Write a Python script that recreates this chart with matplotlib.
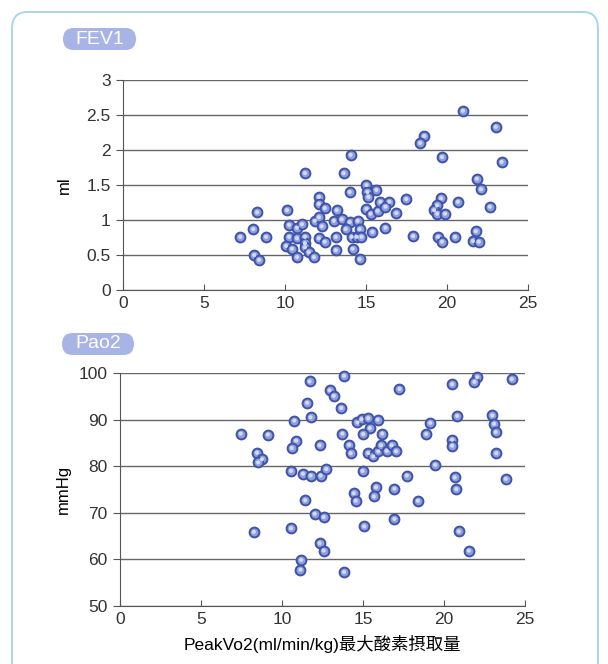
import numpy as np
import matplotlib
matplotlib.use("Agg")
import matplotlib.pyplot as plt
from matplotlib.patches import FancyBboxPatch

plt.rcParams['font.family'] = ['Liberation Sans', 'Noto Sans CJK JP', 'DejaVu Sans']
plt.rcParams['text.color'] = '#333333'
plt.rcParams['xtick.labelcolor'] = '#333333'
plt.rcParams['ytick.labelcolor'] = '#333333'

# FEV1 panel (x: PeakVo2, y: ml)
fev_x = [7.24, 8.04, 8.28, 8.10, 8.40, 8.83, 10.12, 11.23, 10.25, 10.74,
         11.04, 10.25, 10.74, 11.23, 10.06, 10.43, 11.23, 11.23, 10.74, 11.47,
         11.78, 12.09, 12.09, 12.45, 11.84, 12.09, 12.27, 12.09, 12.45, 13.19,
         13.01, 13.50, 13.99, 14.48, 13.74, 14.60, 13.13, 14.11, 14.42, 14.72,
         13.13, 14.17, 14.60, 13.62, 14.05, 13.99, 15.03, 15.64, 15.09, 15.15,
         15.03, 15.28, 15.71, 15.89, 16.44, 16.20, 16.87, 17.48, 15.40, 16.20,
         17.91, 20.98, 23.01, 18.59, 18.34, 19.69, 23.37, 21.84, 22.09, 19.63,
         19.39, 19.20, 19.39, 19.88, 20.67, 22.64, 19.45, 19.69, 20.49, 21.78,
         21.60, 21.96]
fev_y = [0.76, 0.87, 1.11, 0.50, 0.43, 0.76, 1.14, 1.67, 0.93, 0.89,
         0.94, 0.76, 0.74, 0.76, 0.63, 0.59, 0.67, 0.61, 0.47, 0.54,
         0.47, 1.33, 1.23, 1.17, 0.99, 1.04, 0.91, 0.74, 0.69, 1.14,
         0.99, 1.01, 0.97, 0.99, 0.87, 0.87, 0.76, 0.76, 0.76, 0.76,
         0.57, 0.59, 0.44, 1.67, 1.93, 1.40, 1.50, 1.43, 1.40, 1.33,
         1.16, 1.09, 1.13, 1.26, 1.26, 1.19, 1.10, 1.30, 0.83, 0.89,
         0.77, 2.56, 2.33, 2.20, 2.10, 1.90, 1.83, 1.59, 1.44, 1.31,
         1.21, 1.14, 1.09, 1.09, 1.26, 1.19, 0.76, 0.69, 0.76, 0.84,
         0.70, 0.69]

# Pao2 panel (x: PeakVo2, y: mmHg)
pao_x = [7.45, 8.45, 8.76, 8.53, 9.13, 8.26, 11.70, 11.55, 10.76, 11.76,
         10.87, 10.60, 12.32, 10.56, 11.29, 11.76, 12.38, 12.73, 11.43, 12.01,
         12.57, 10.56, 12.32, 12.57, 11.18, 11.14, 13.83, 12.94, 13.19, 17.25,
         13.66, 14.66, 14.91, 15.32, 15.90, 15.42, 15.01, 16.19, 13.73, 14.14,
         14.24, 15.32, 15.63, 15.94, 16.11, 16.46, 16.77, 17.04, 14.97, 17.70,
         14.43, 14.55, 15.80, 15.67, 16.94, 18.39, 15.07, 16.94, 13.83, 20.50,
         22.05, 21.88, 24.18, 20.81, 22.98, 23.09, 23.19, 19.15, 18.90, 20.50,
         20.50, 23.23, 19.46, 20.66, 20.76, 23.81, 20.91, 21.53]
pao_y = [87.0, 82.9, 81.5, 80.8, 86.8, 65.9, 98.2, 93.6, 89.8, 90.5,
         85.5, 83.9, 84.5, 79.0, 78.4, 78.0, 78.0, 79.4, 72.7, 69.8,
         69.1, 66.7, 63.5, 61.9, 59.9, 57.8, 99.4, 96.3, 95.1, 96.6,
         92.5, 89.4, 90.1, 90.3, 90.0, 88.2, 86.9, 87.0, 87.0, 84.6,
         82.8, 82.8, 82.1, 83.2, 84.5, 83.3, 84.5, 83.2, 79.0, 78.0,
         74.2, 72.6, 75.5, 73.5, 75.2, 72.6, 67.1, 68.7, 57.3, 97.6,
         99.1, 98.1, 98.7, 90.8, 90.9, 89.1, 87.3, 89.3, 86.9, 85.7,
         84.4, 82.8, 80.3, 77.6, 75.1, 77.3, 66.0, 61.9]

x_ticks = [0, 5, 10, 15, 20, 25]
fev_ticks = [0, 0.5, 1, 1.5, 2, 2.5, 3]
fev_labels = ['0', '0.5', '1', '1.5', '2', '2.5', '3']
pao_ticks = [50, 60, 70, 80, 90, 100]

fig = plt.figure(figsize=(6.08, 6.64), dpi=100)

# outer rounded frame
frame = FancyBboxPatch((12/608, 1 - 700/664), 586/608, 688/664,
                       boxstyle="round,pad=0,rounding_size=0.025",
                       transform=fig.transFigure, facecolor='none',
                       edgecolor='#a9d6ea', linewidth=1.4, zorder=0)
fig.patches.append(frame)


def pill(text, x0, y0, w, h):
    p = FancyBboxPatch((x0/608, 1 - (y0 + h)/664), w/608, h/664,
                       boxstyle="round,pad=0,rounding_size=0.017",
                       transform=fig.transFigure, facecolor='#a8b3e6',
                       edgecolor='none', zorder=1)
    fig.patches.append(p)
    fig.text((x0 + w/2)/608, 1 - (y0 + h/2)/664, text, color='white',
             fontsize=14, ha='center', va='center')


def style(ax, yt, ylab):
    ax.set_facecolor('none')
    for s in ['top', 'right']:
        ax.spines[s].set_visible(False)
    ax.spines['left'].set_color('#555555')
    ax.spines['bottom'].set_color('#555555')
    ax.set_yticks(yt)
    ax.set_xticks(x_ticks)
    ax.grid(axis='y', color='#666666', linewidth=1.0)
    ax.set_axisbelow(True)
    ax.tick_params(axis='y', direction='out', length=5, color='#555555',
                   labelsize=12.5, pad=4)
    ax.tick_params(axis='x', direction='in', length=4, color='#555555',
                   labelsize=12.5, pad=4)
    ax.set_ylabel(ylab, fontsize=12)


def dots(ax, x, y):
    ax.scatter(x, y, s=50, facecolor='#8e9edc', edgecolor='#3f53a8',
               linewidth=1.4, zorder=3, clip_on=False)
    ax.scatter(x, y, s=9, facecolor='#d3daf5', edgecolor='none',
               zorder=4, clip_on=False)


ax1 = fig.add_axes([123/608, 1 - 290/664, 405/608, 210/664])
dots(ax1, fev_x, fev_y)
ax1.set_xlim(0, 25)
ax1.set_ylim(0, 3)
style(ax1, fev_ticks, 'ml')
ax1.set_yticklabels(fev_labels)
ax1.yaxis.set_label_coords(-0.125, 0.5)

ax2 = fig.add_axes([120/608, 1 - 606/664, 405/608, 233/664])
dots(ax2, pao_x, pao_y)
ax2.set_xlim(0, 25)
ax2.set_ylim(50, 100)
style(ax2, pao_ticks, 'mmHg')
ax2.yaxis.set_label_coords(-0.12, 0.5)
ax2.set_xlabel('PeakVo2(ml/min/kg)最大酸素摂取量', fontsize=12.5, labelpad=6)

pill('FEV1', 63, 28, 73, 22)
pill('Pao2', 62, 333, 72, 22)

fig.savefig('out.png', dpi=100)
